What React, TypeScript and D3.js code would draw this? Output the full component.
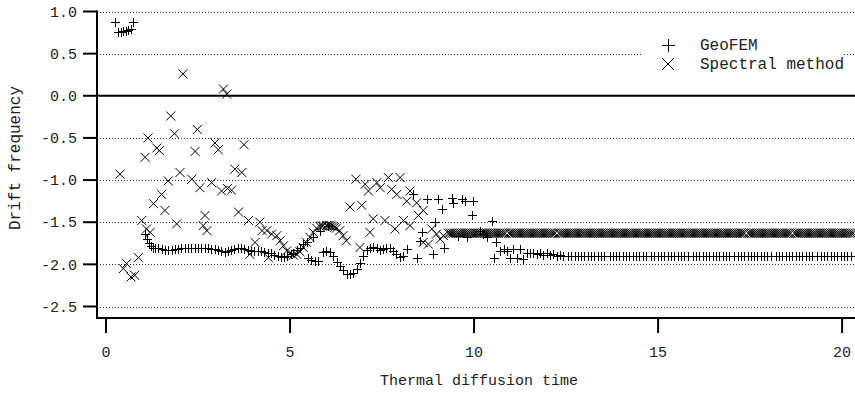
import React from 'react';
import * as d3 from 'd3';

// ---------- data ----------
const xTicks = [0, 5, 10, 15, 20];
const xTickLabels = ['0', '5', '10', '15', '20'];
const yTicks = [1.0, 0.5, 0.0, -0.5, -1.0, -1.5, -2.0, -2.5];
const yTickLabels = ['1.0', '0.5', '0.0', '-0.5', '-1.0', '-1.5', '-2.0', '-2.5'];

const seriesNames = ['GeoFEM', 'Spectral method'];

// GeoFEM: [time, drift frequency]
const geoEarly: [number, number][] = [
  [0.24, 0.88], [0.33, 0.755], [0.40, 0.76], [0.47, 0.765], [0.54, 0.77], [0.61, 0.78], [0.68, 0.79], [0.74, 0.88],
];
const geoFlat: [number, number][] = [
  [1.07, -1.64], [1.12, -1.70], [1.17, -1.75], [1.22, -1.78], [1.27, -1.80],
  [1.33, -1.80], [1.42, -1.81], [1.51, -1.82], [1.60, -1.83], [1.69, -1.83], [1.78, -1.83], [1.87, -1.82],
  [1.96, -1.82], [2.05, -1.81], [2.14, -1.81], [2.23, -1.80], [2.32, -1.80], [2.41, -1.80], [2.50, -1.80],
  [2.59, -1.81], [2.68, -1.81], [2.77, -1.81], [2.86, -1.82], [2.95, -1.82], [3.04, -1.83], [3.13, -1.84],
  [3.22, -1.85], [3.31, -1.84], [3.40, -1.83], [3.49, -1.82], [3.58, -1.81], [3.67, -1.81], [3.76, -1.82],
  [3.85, -1.83], [3.94, -1.84], [4.03, -1.84], [4.12, -1.84], [4.21, -1.84], [4.30, -1.85], [4.39, -1.86],
  [4.48, -1.87], [4.57, -1.89], [4.66, -1.90], [4.75, -1.91], [4.84, -1.91], [4.93, -1.90], [5.02, -1.88],
];
const geoWave: [number, number][] = [
  [5.09, -1.86], [5.18, -1.83], [5.27, -1.80], [5.36, -1.76], [5.45, -1.73], [5.63, -1.67], [5.82, -1.60], [6.04, -1.54],
  [5.49, -1.93], [5.58, -1.95], [5.67, -1.96], [5.76, -1.96], [5.90, -1.85], [5.99, -1.84], [6.08, -1.85],
  [6.18, -1.90], [6.27, -1.97], [6.36, -2.02], [6.45, -2.07], [6.54, -2.11], [6.63, -2.12], [6.72, -2.10],
  [6.81, -2.05], [6.90, -1.98], [6.99, -1.90], [7.08, -1.83], [7.17, -1.80], [7.26, -1.79], [7.35, -1.81],
  [7.44, -1.83], [7.53, -1.82], [7.62, -1.80], [7.71, -1.81], [7.80, -1.84], [7.89, -1.88], [7.98, -1.91], [8.07, -1.90],
];
const geoScatter: [number, number][] = [
  [8.17, -1.82], [8.35, -1.17], [8.46, -1.92], [8.53, -1.72], [8.58, -1.62], [8.71, -1.23], [8.88, -1.88],
  [8.94, -1.50], [9.03, -1.23], [9.12, -1.34], [9.17, -1.80], [9.39, -1.21], [9.44, -1.27], [9.55, -1.66],
  [9.67, -1.23], [9.76, -1.25], [9.80, -1.68], [9.94, -1.42], [9.98, -1.25], [10.16, -1.60], [10.25, -1.64],
  [10.34, -1.68], [10.48, -1.48], [10.53, -1.92], [10.60, -1.74], [10.71, -1.84], [10.80, -1.82], [10.89, -1.84],
  [10.98, -1.92], [11.07, -1.82], [11.16, -1.93], [11.25, -1.82], [11.34, -1.94], [11.43, -1.86], [11.52, -1.87],
  [11.61, -1.86], [11.70, -1.88], [11.79, -1.86], [11.88, -1.89], [11.97, -1.87], [12.06, -1.89], [12.15, -1.88],
  [12.24, -1.90], [12.33, -1.89], [12.42, -1.90],
];
const geoTailLevel = -1.90;
const geoTailTimes = [
  12.55, 12.64, 12.73, 12.82, 12.91, 13.00, 13.09, 13.18, 13.27, 13.36, 13.45, 13.54,
  13.68, 13.77, 13.86, 13.95, 14.04, 14.13, 14.22, 14.31, 14.40, 14.49, 14.58, 14.67,
  14.81, 14.90, 14.99, 15.08, 15.17, 15.26, 15.35, 15.44, 15.53, 15.62, 15.71, 15.80,
  15.94, 16.03, 16.12, 16.21, 16.30, 16.39, 16.48, 16.57, 16.66, 16.75, 16.84, 16.93,
  17.07, 17.16, 17.25, 17.34, 17.43, 17.52, 17.61, 17.70, 17.79, 17.88, 17.97, 18.06,
  18.20, 18.29, 18.38, 18.47, 18.56, 18.65, 18.74, 18.83, 18.92, 19.01, 19.10, 19.19,
  19.33, 19.42, 19.51, 19.60, 19.69, 19.78, 19.87, 19.96, 20.05, 20.14, 20.23,
];

// Spectral method: [time, drift frequency]
const specScatter: [number, number][] = [
  [0.38, -0.93], [0.47, -2.05], [0.56, -1.99], [0.68, -2.15], [0.78, -2.13], [0.88, -1.92], [0.97, -1.48],
  [1.06, -0.73], [1.10, -1.58], [1.14, -0.50], [1.20, -1.62], [1.29, -1.28], [1.38, -0.62], [1.45, -0.65],
  [1.51, -1.17], [1.60, -1.36], [1.69, -1.01], [1.76, -0.24], [1.86, -0.45], [1.92, -1.52], [2.01, -0.91],
  [2.09, 0.26], [2.33, -0.99], [2.42, -0.66], [2.48, -0.40], [2.55, -1.09], [2.64, -1.54], [2.69, -1.42],
  [2.74, -1.60], [2.87, -1.03], [2.96, -0.56], [3.05, -0.64], [3.14, -1.13], [3.19, 0.08], [3.28, 0.02],
  [3.30, -1.10], [3.41, -1.12], [3.50, -0.87], [3.60, -1.38], [3.69, -0.91], [3.75, -0.58], [3.87, -1.48],
  [3.91, -1.88], [4.05, -1.74], [4.18, -1.50], [4.24, -1.60], [4.37, -1.60], [4.41, -1.92], [4.50, -1.64],
  [4.64, -1.66], [4.73, -1.72], [4.82, -1.78], [4.91, -1.84],
];
const specWave: [number, number][] = [
  [5.00, -1.87], [5.09, -1.89], [5.18, -1.88], [5.27, -1.85], [5.36, -1.80], [5.45, -1.74], [5.54, -1.68],
  [5.63, -1.62], [5.72, -1.57], [5.81, -1.55], [5.86, -1.545], [5.90, -1.54], [5.99, -1.54], [6.03, -1.54],
  [6.08, -1.54], [6.12, -1.545], [6.17, -1.55], [6.21, -1.56], [6.26, -1.57], [6.35, -1.60], [6.44, -1.66],
  [6.53, -1.72], [6.90, -1.80],
];
const specUpper: [number, number][] = [
  [6.63, -1.32], [6.95, -1.30], [6.79, -0.99], [7.04, -1.05], [7.13, -1.13], [7.36, -1.03], [7.45, -1.09],
  [7.67, -0.97], [7.76, -1.11], [7.99, -0.97], [7.90, -1.17], [8.17, -1.25], [8.26, -1.13], [8.44, -1.27],
  [8.62, -1.36], [8.49, -1.42], [7.26, -1.46], [7.58, -1.48], [7.17, -1.62], [7.85, -1.58], [8.08, -1.48],
  [8.26, -1.54], [8.62, -1.74], [8.76, -1.76], [8.85, -1.58], [8.98, -1.64], [9.08, -1.70], [9.17, -1.66],
];
const specTailLevel = -1.63;
const specTailTimes = [
  9.3, 9.35, 9.4, 9.45, 9.5, 9.55, 9.6, 9.65, 9.7, 9.75, 9.8, 9.85, 9.9, 9.95,
  10, 10.05, 10.1, 10.15, 10.2, 10.25, 10.3, 10.35, 10.4, 10.45, 10.5, 10.55, 10.6, 10.65, 10.7, 10.75, 10.8, 10.85, 10.95,
  11, 11.05, 11.1, 11.15, 11.2, 11.25, 11.3, 11.35, 11.4, 11.45, 11.5, 11.55, 11.6, 11.65, 11.7, 11.75, 11.8, 11.85, 11.9, 11.95,
  12, 12.05, 12.1, 12.15, 12.2, 12.3, 12.35, 12.4, 12.45, 12.5, 12.55, 12.6, 12.65, 12.7, 12.75, 12.8, 12.85, 12.9, 12.95,
  13, 13.05, 13.1, 13.15, 13.2, 13.25, 13.3, 13.35, 13.4, 13.45, 13.5, 13.55, 13.6, 13.65, 13.7, 13.75, 13.8, 13.85, 13.9, 13.95,
  14, 14.05, 14.1, 14.15, 14.2, 14.25, 14.3, 14.35, 14.4, 14.45, 14.5, 14.55, 14.6, 14.65, 14.7, 14.75, 14.8, 14.85, 14.9, 14.95,
  15, 15.05, 15.1, 15.15, 15.2, 15.25, 15.3, 15.35, 15.4, 15.45, 15.5, 15.55, 15.6, 15.65, 15.7, 15.75, 15.8, 15.85, 15.9, 15.95,
  16, 16.05, 16.1, 16.15, 16.2, 16.25, 16.3, 16.35, 16.4, 16.45, 16.5, 16.55, 16.6, 16.65, 16.7, 16.75, 16.8, 16.85, 16.9, 16.95,
  17, 17.05, 17.1, 17.15, 17.2, 17.25, 17.3, 17.35, 17.45, 17.5, 17.55, 17.6, 17.65, 17.7, 17.75, 17.8, 17.85, 17.9, 17.95,
  18, 18.05, 18.1, 18.15, 18.2, 18.25, 18.3, 18.35, 18.4, 18.45, 18.5, 18.55, 18.6, 18.7, 18.75, 18.8, 18.85, 18.9, 18.95,
  19, 19.05, 19.1, 19.15, 19.2, 19.25, 19.3, 19.35, 19.4, 19.45, 19.5, 19.55, 19.6, 19.65, 19.7, 19.75, 19.8, 19.85, 19.9, 19.95,
  20, 20.05, 20.1, 20.15, 20.2, 20.25, 20.3,
];

// ---------- drawing ----------
const W = 855;
const H = 394;
const FONT = "'Courier New', 'Liberation Mono', monospace";

function plusPath(pts: [number, number][], r: number) {
  return pts
    .map(([cx, cy]) => {
      const x0 = Math.round(cx) + 0.5;
      const y0 = Math.round(cy) + 0.5;
      return `M${x0 - r},${y0}h${2 * r}M${x0},${y0 - r}v${2 * r}`;
    })
    .join('');
}
function crossPath(pts: [number, number][], r: number) {
  return pts
    .map(([cx, cy]) => `M${cx - r},${cy - r}L${cx + r},${cy + r}M${cx - r},${cy + r}L${cx + r},${cy - r}`)
    .join('');
}

export default function App() {
  const x = d3.scaleLinear().domain([-0.245, 20.35]).range([97, 855]);
  const y = d3.scaleLinear().domain([1, -2.5]).range([11.5, 306.5]);
  const left = x(-0.245);
  const right = x(20.35);
  const axisY = Math.round(y(-2.64));
  const top = y(1);

  const geoAll: [number, number][] = [
    ...geoEarly, ...geoFlat, ...geoWave, ...geoScatter,
    ...geoTailTimes.map((t) => [t, geoTailLevel] as [number, number]),
  ];
  const specAll: [number, number][] = [
    ...specScatter, ...specWave, ...specUpper,
    ...specTailTimes.map((t) => [t, specTailLevel] as [number, number]),
  ];
  const geoPx = geoAll.map(([t, v]) => [x(t), y(v)] as [number, number]);
  const specPx = specAll.map(([t, v]) => [x(t), y(v)] as [number, number]);

  return (
    <svg
      width={W}
      height={H}
      viewBox={`0 0 ${W} ${H}`}
      style={{ position: 'absolute', left: 0, top: 0, background: '#fff' }}
    >
      <rect x={0} y={0} width={W} height={H} fill="#fff" />
      {/* grid */}
      {yTicks.map((t) =>
        t === 0 ? (
          <line key={t} x1={left} x2={right} y1={y(t)} y2={y(t)} stroke="#000" strokeWidth={2} />
        ) : (
          <line
            key={t}
            x1={left}
            x2={right}
            y1={Math.round(y(t)) + 0.5}
            y2={Math.round(y(t)) + 0.5}
            stroke="#333"
            strokeWidth={1}
            strokeDasharray="1,2"
          />
        )
      )}
      {/* markers */}
      <path d={crossPath(specPx, 4.5)} fill="none" stroke="#000" strokeWidth={1} />
      <path d={plusPath(geoPx, 4.5)} fill="none" stroke="#000" strokeWidth={1} />

      {/* legend */}
      <rect x={643} y={30} width={199} height={48} fill="#fff" />
      <path d={plusPath([[668, 45]], 6.5)} fill="none" stroke="#000" strokeWidth={1} />
      <path d={crossPath([[668, 64]], 6)} fill="none" stroke="#000" strokeWidth={1} />
      <text x={700} y={50} fontFamily={FONT} fontSize={16} fill="#222">{seriesNames[0]}</text>
      <text x={700} y={69} fontFamily={FONT} fontSize={16} fill="#222">{seriesNames[1]}</text>

      {/* y axis */}
      <line x1={left} x2={left} y1={top - 1} y2={axisY + 1} stroke="#000" strokeWidth={2} />
      {yTicks.map((t, i) => (
        <g key={t}>
          <line x1={83} x2={left} y1={y(t)} y2={y(t)} stroke="#000" strokeWidth={2} />
          <text x={77} y={y(t)} dy="0.35em" textAnchor="end" fontFamily={FONT} fontSize={15} fill="#222">
            {yTickLabels[i]}
          </text>
        </g>
      ))}
      {/* x axis */}
      <line x1={left - 1} x2={right} y1={axisY} y2={axisY} stroke="#000" strokeWidth={2} />
      {xTicks.map((t, i) => (
        <g key={t}>
          <line x1={x(t)} x2={x(t)} y1={axisY} y2={axisY + 15} stroke="#000" strokeWidth={2} />
          <text x={x(t)} y={357} textAnchor="middle" fontFamily={FONT} fontSize={15} fill="#222">
            {xTickLabels[i]}
          </text>
        </g>
      ))}
      <text x={479} y={385} textAnchor="middle" fontFamily={FONT} fontSize={15} fill="#222">
        Thermal diffusion time
      </text>
      <text
        transform="translate(20,158) rotate(-90)"
        textAnchor="middle"
        fontFamily={FONT}
        fontSize={16}
        fill="#222"
      >
        Drift frequency
      </text>
    </svg>
  );
}
